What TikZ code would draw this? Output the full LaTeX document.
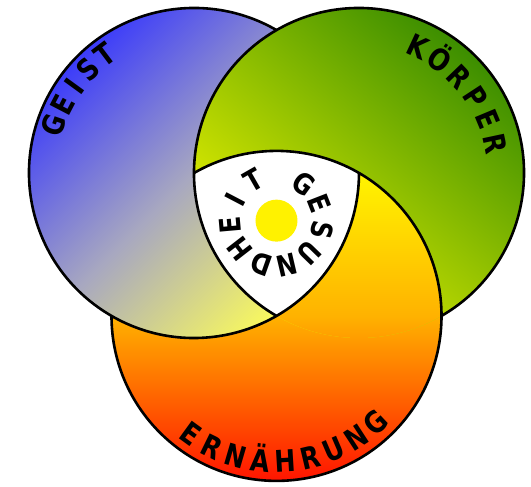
\documentclass[tikz,border=0pt]{standalone}
\usepackage{fontspec}
\setmainfont{DejaVu Sans}
\newfontfamily\lblfont[FakeStretch=0.84]{DejaVu Sans}
\usepackage{tikz}
\usetikzlibrary{calc}
\definecolor{geistblue}{RGB}{60,60,250}
\definecolor{geistgray}{RGB}{168,168,192}
\definecolor{geistpale}{RGB}{252,252,90}
\definecolor{koerpergreen}{RGB}{60,142,0}
\definecolor{koerpermid}{RGB}{150,195,0}
\definecolor{koerperyellow}{RGB}{240,245,0}
\definecolor{nahrtop}{RGB}{255,255,0}
\definecolor{nahrmid}{RGB}{255,178,0}
\definecolor{nahrbot}{RGB}{255,20,0}

\begin{document}
\begin{tikzpicture}[x=1pt,y=1pt,
  rim/.style={line width=2.6pt},
  bluefill/.style={top color=geistblue,bottom color=geistpale,middle color=geistgray,shading angle=45},
  greenfill/.style={top color=koerpergreen,bottom color=koerperyellow,middle color=koerpermid,shading angle=-40},
  orangefill/.style={top color=nahrtop,bottom color=nahrbot,middle color=nahrmid},
  lbl/.style={font=\lblfont\bfseries\fontsize{30}{30}\selectfont,inner sep=0pt,text height=21.5pt,text depth=0pt},
  slbl/.style={font=\lblfont\bfseries\fontsize{29}{29}\selectfont,inner sep=0pt,text height=21pt,text depth=0pt}]
\useasboundingbox (0,0) rectangle (531,487);
% centres of the three circles
\coordinate (A) at (194,314);   % Geist
\coordinate (B) at (359,314);   % Koerper
\coordinate (C) at (276.5,171.1); % Ernaehrung
\coordinate (O) at ($1/3*(A)+1/3*(B)+1/3*(C)$);
% fills, each circle lying over the next one
\shade[orangefill] (C) circle (165);
\shade[bluefill] (A) circle (165);
\shade[greenfill] (B) circle (165);
\begin{scope}
\clip (B) circle (165);
\shade[orangefill] (C) circle (165);
\end{scope}
\begin{scope}
\clip (A) circle (165); \clip (B) circle (165);
\fill[white] (C) circle (165);
\end{scope}
% visible rims
\draw[rim] ($(A)+(60:165)$) arc[start angle=60,end angle=360,radius=165];
\draw[rim] ($(B)+(300:165)$) arc[start angle=300,end angle=600,radius=165];
\draw[rim] ($(C)+(180:165)$) arc[start angle=180,end angle=480,radius=165];
% sun
\fill[yellow] (O) circle (21);
% labels
\foreach \ch [count=\i from 0] in {G,E,I,S,T}
  \node[lbl,rotate=71-8.5*\i] (g\i) at ($(A)+({161-8.5*\i}:148)$) {\ch};
\foreach \ch [count=\i from 0] in {K,Ö,R,P,E,R}
  \node[lbl,rotate=-25-10.6*\i] (k\i) at ($(B)+({65-10.6*\i}:139)$) {\ch};
\foreach \ch [count=\i from 0] in {E,R,N,Ä,H,R,U,N,G}
  \node[lbl,rotate=324+9.875*\i] (e\i) at ($(C)+({234+9.875*\i}:146)$) {\ch};
\foreach \ch [count=\i from 0] in {G,E,S,U,N,D,H,E,I,T}
  \node[slbl,rotate=-36-32.7*\i] (h\i) at ($(O)+({54-32.7*\i}:46)$) {\ch};
\end{tikzpicture}
\end{document}
